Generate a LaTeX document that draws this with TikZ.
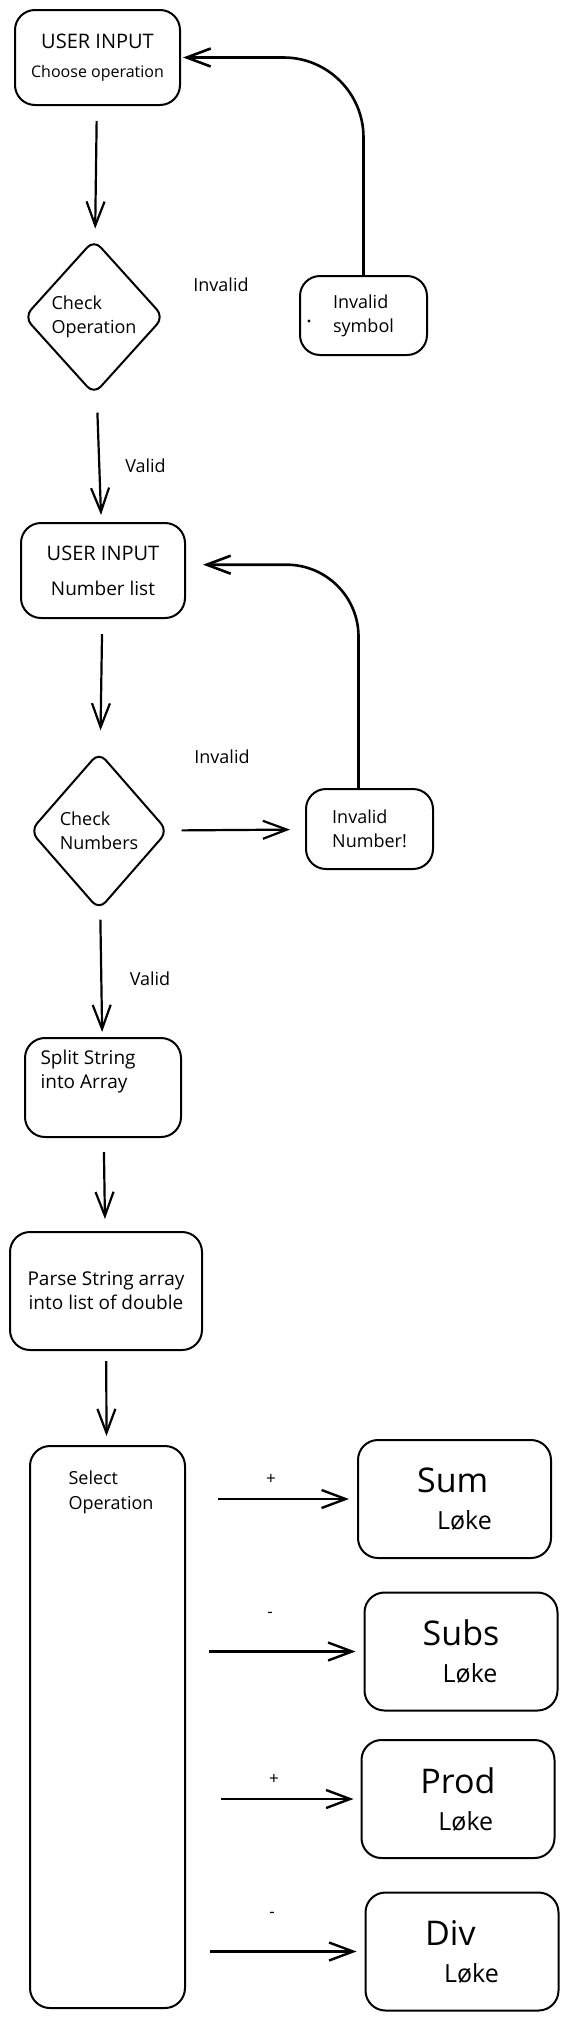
\documentclass[tikz,border=0pt]{standalone}
\usepackage{fontspec}
\setmainfont{Open Sans}
\usetikzlibrary{arrows.meta,positioning,shapes.geometric}

\begin{document}
\begin{tikzpicture}[>={Straight Barb[length=24pt,width=18pt]},on grid,
  every node/.style={font=\fontsize{18}{24}\selectfont},
  process/.style={draw,rounded corners=20pt,line width=2pt,align=center,inner sep=0pt},
  decision/.style={draw,diamond,aspect=0.9,rounded corners=10pt,line width=2pt,align=left,inner sep=0pt},
  result/.style={process,minimum width=193pt,minimum height=118pt,align=left,font=\fontsize{25}{37}\selectfont},
  oplabel/.style={font=\fontsize{17}{18}\selectfont}]
\useasboundingbox (0,0) rectangle (565pt,-2021pt);
  \node[process,minimum width=165pt,minimum height=95pt,font=\fontsize{20}{29}\selectfont] (UserOp) at (97.5pt,-57.5pt)
    {USER INPUT\\{\fontsize{16}{20}\selectfont Choose operation}};
  \node[decision,minimum width=140pt,minimum height=155pt] (CheckOp) [below left=259.5pt and 3.5pt of UserOp] {Check\\Operation};
  \node[process,minimum width=127pt,minimum height=79pt,align=left] (InvSym) [above right=1.5pt and 269.5pt of CheckOp] {Invalid\\symbol};
  \node[process,minimum width=164pt,minimum height=95pt,font=\fontsize{20}{35}\selectfont] (UserNum) [below right=253.5pt and 9pt of CheckOp]
    {USER INPUT\\{\fontsize{19}{24}\selectfont Number list}};
  \node[decision,minimum width=138pt,minimum height=158pt] (CheckNum) [below left=260.5pt and 4pt of UserNum] {Check\\Numbers};
  \node[process,minimum width=127pt,minimum height=80pt,align=left] (InvNum) [above right=2pt and 270.5pt of CheckNum] {Invalid\\Number!};
  \node[process,minimum width=156pt,minimum height=99pt,
    label={[anchor=north west,align=left,xshift=13pt,yshift=-10pt,font=\fontsize{19}{24}\selectfont]north west:Split String\\into Array}]
    (Split) [below right=256.5pt and 4pt of CheckNum] {};
  \node[process,minimum width=192pt,minimum height=118pt,font=\fontsize{19}{24}\selectfont] (Parse) [below right=203.5pt and 3pt of Split]
    {Parse String array\\into list of double};
  \node[process,minimum width=155pt,minimum height=562pt,
    label={[anchor=north west,align=left,xshift=36pt,yshift=-22pt,font=\fontsize{18}{25}\selectfont]north west:Select\\Operation}]
    (Select) [below right=436pt and 1.5pt of Parse] {};
  \node[result] (Sum) [above right=228pt and 347pt of Select] {{\fontsize{34}{40}\selectfont Sum}\\\hspace*{20pt}Løke};
  \node[result] (Subs) [below right=152.5pt and 6.5pt of Sum] {{\fontsize{34}{40}\selectfont Subs}\\\hspace*{20pt}Løke};
  \node[result] (Prod) [below left=147.5pt and 3pt of Subs] {{\fontsize{34}{40}\selectfont Prod}\\\hspace*{18pt}Løke};
  \node[result] (Div) [below right=152.5pt and 4pt of Prod] {{\fontsize{34}{40}\selectfont Div}\\\hspace*{19pt}Løke};
  % labels
  \node (InvalidOp) [above right=32pt and 127pt of CheckOp] {Invalid};
  \node (ValidOp) [below right=149pt and 51.5pt of CheckOp] {Valid};
  \node (InvalidNum) [above right=74pt and 123pt of CheckNum] {Invalid};
  \node (ValidNum) [below right=148pt and 51pt of CheckNum] {Valid};
  \node[oplabel] (PlusSum) [above left=20pt and 183.5pt of Sum] {+};
  \node[oplabel] (MinusSubs) [above left=36.5pt and 191pt of Subs] {-};
  \node[oplabel] (PlusProd) [above left=20pt and 184pt of Prod] {+};
  \node[oplabel] (MinusDiv) [above left=36.5pt and 190pt of Div] {-};
  \fill ([xshift=10pt,yshift=-5.5pt]InvSym.west) circle (1.7pt);
\tikzset{flow/.style={->,line width=2.2pt}}
\path (UserOp)   edge [flow,shorten <=15pt,shorten >=11pt] (CheckOp)
      (CheckOp)  edge [flow,shorten <=20pt,shorten >=7pt]  (UserNum)
      (UserNum)  edge [flow,shorten <=15pt,shorten >=22pt] (CheckNum)
      (CheckNum) edge [flow,shorten <=13pt,shorten >=15pt] (InvNum)
      (CheckNum) edge [flow,shorten <=10pt,shorten >=5pt]  (Split)
      (Split)    edge [flow,shorten <=14pt,shorten >=12pt] (Parse)
      (Parse)    edge [flow,shorten <=10pt,shorten >=9pt]  (Select);
\tikzset{flow/.style={->,line width=2.6pt,rounded corners=80pt}}
\draw[flow,shorten >=2pt] (InvSym.north) |- (UserOp.east);
\draw[flow,rounded corners=72pt,shorten >=17pt] (InvNum.105) |- (UserNum.4);
\tikzset{flow/.style={->,line width=2.4pt}}
\draw[flow,shorten <=32pt,shorten >=8pt] (Select.east |- Sum.west) -- (Sum.west);
\draw[flow,shorten <=23pt,shorten >=8pt] (Select.east |- Subs.west) -- (Subs.west);
\draw[flow,shorten <=35pt,shorten >=7pt] (Select.east |- Prod.west) -- (Prod.west);
\draw[flow,shorten <=24pt,shorten >=8pt] (Select.east |- Div.west) -- (Div.west);
\end{tikzpicture}
\end{document}
